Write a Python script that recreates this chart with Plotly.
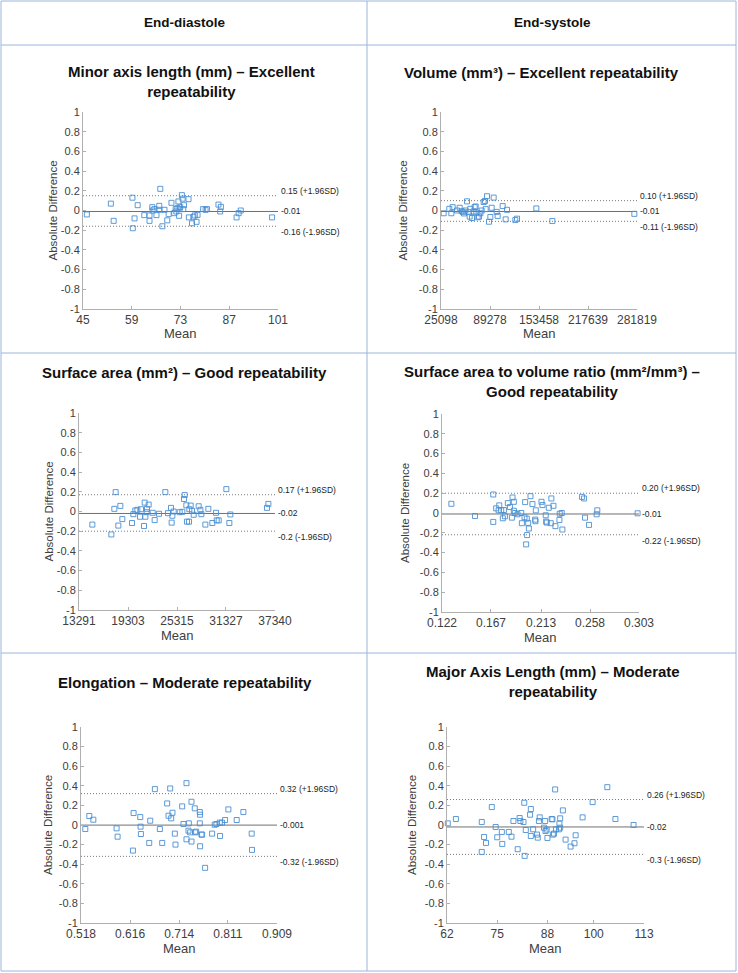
import plotly.graph_objects as go

W, H = 738, 973

# ---------------- data ----------------
col_headers = ["End-diastole", "End-systole"]

y_tickvals = [-1, -0.8, -0.6, -0.4, -0.2, 0, 0.2, 0.4, 0.6, 0.8, 1]
y_ticktext = ["-1", "-0.8", "-0.6", "-0.4", "-0.2", "0", "0.2", "0.4", "0.6", "0.8", "1"]

# Panel 1: Minor axis length (ED)
p1_title = "Minor axis length (mm) – Excellent<br>repeatability"
p1_xticks = [45, 59, 73, 87, 101]
p1_mean = [46.1, 53.0, 53.8, 59.2, 59.3, 59.8, 60.7, 62.6, 64.1, 64.1, 64.9, 65.0, 65.5, 66.1, 66.9, 66.9,
           67.2, 67.8, 68.4, 69.2, 69.6, 70.4, 71.2, 71.6, 71.8, 72.1, 72.4, 72.6, 72.7, 72.9, 73.4, 73.6,
           73.8, 74.0, 75.3, 75.4, 76.3, 76.7, 77.1, 77.6, 77.9, 79.5, 80.2, 80.6, 83.9, 84.4, 84.6, 89.1,
           89.7, 90.3, 99.3]
p1_diff = [-0.04, 0.07, -0.105, 0.13, -0.18, -0.08, 0.054, -0.047, -0.105, -0.05, 0.034, 0.0, 0.014, -0.047,
           0.047, 0.007, 0.22, -0.16, 0.007, -0.1, -0.037, 0.078, -0.027, 0.014, -0.01, 0.024, 0.092, -0.054,
           0.014, 0.034, 0.156, 0.12, 0.014, 0.054, 0.115, -0.07, -0.13, -0.064, -0.05, -0.115, -0.044, 0.014,
           0.007, 0.014, 0.06, -0.01, 0.037, -0.07, -0.027, 0.0, -0.07]
p1_limits = [0.15, -0.01, -0.16]
p1_labels = ["0.15 (+1.96SD)", "-0.01", "-0.16 (-1.96SD)"]

# Panel 2: Volume (ES)
p2_title = "Volume (mm³) – Excellent repeatability"
p2_xticks = [25098, 89278, 153458, 217639, 281819]
p2_mean = [28590, 36000, 38630, 40380, 46050, 49550, 52170, 53920, 55230, 56970, 59150, 61340, 62650, 63520,
           65700, 67890, 69200, 70510, 71380, 73130, 74870, 76620, 78360, 80980, 82730, 83600, 85350, 87970,
           89720, 91460, 94080, 98010, 99320, 105870, 109800, 111540, 122460, 124640, 149960, 170920, 278330]
p2_diff = [-0.028, 0.017, -0.028, 0.034, 0.0, 0.028, -0.007, -0.017, -0.03, 0.0, 0.093, -0.017, -0.062, 0.017,
           -0.076, -0.01, 0.034, 0.041, -0.02, -0.069, -0.062, -0.028, 0.0, 0.086, 0.097, 0.014, 0.145, -0.114,
           -0.066, 0.028, 0.131, -0.014, -0.055, 0.045, -0.09, 0.007, -0.097, -0.083, 0.021, -0.107, -0.034]
p2_limits = [0.10, -0.01, -0.11]
p2_labels = ["0.10 (+1.96SD)", "-0.01", "-0.11 (-1.96SD)"]

# Panel 3: Surface area (ED)
p3_title = "Surface area (mm²) – Good repeatability"
p3_xticks = [13291, 19303, 25315, 31327, 37340]
p3_mean = [14927, 17258, 17626, 17790, 18117, 18362, 18608, 19794, 19958, 20203, 20449, 20776, 20899, 21267,
           21349, 21431, 21594, 21635, 21840, 22331, 22576, 23108, 23885, 24212, 24580, 24662, 24744, 24908,
           25644, 25971, 26176, 26258, 26462, 26544, 26790, 26830, 26994, 27157, 27362, 27976, 28180, 28303,
           28794, 29162, 29653, 30103, 30185, 30430, 31371, 31739, 31862, 36361, 36525]
p3_diff = [-0.133, -0.233, 0.027, 0.197, -0.143, 0.057, -0.077, -0.117, -0.027, 0.01, 0.017, -0.053, 0.023,
           -0.147, 0.09, -0.053, -0.007, 0.027, 0.07, -0.013, -0.087, -0.023, 0.197, -0.017, 0.037, -0.113,
           -0.043, 0.0, -0.007, -0.003, 0.127, 0.167, 0.063, -0.103, -0.103, 0.023, 0.06, 0.007, -0.033, 0.053,
           0.017, -0.027, -0.133, 0.027, -0.117, -0.013, -0.09, -0.09, 0.227, -0.117, -0.03, 0.037, 0.077]
p3_limits = [0.17, -0.02, -0.2]
p3_labels = ["0.17 (+1.96SD)", "-0.02", "-0.2 (-1.96SD)"]

# Panel 4: Surface area to volume ratio (ES)
p4_title = "Surface area to volume ratio (mm²/mm³) –<br>Good repeatability"
p4_xticks = [0.122, 0.167, 0.213, 0.258, 0.303]
p4_mean = [0.1306, 0.1523, 0.1691, 0.1691, 0.1718, 0.1740, 0.1746, 0.1764, 0.1779, 0.1789, 0.1798, 0.1825,
           0.1844, 0.1862, 0.1868, 0.1880, 0.1880, 0.1889, 0.1914, 0.1948, 0.1954, 0.1978, 0.1984, 0.1999,
           0.2002, 0.1993, 0.2012, 0.2018, 0.2033, 0.2051, 0.2076, 0.2079, 0.2082, 0.2134, 0.2143, 0.2173,
           0.2177, 0.2183, 0.2201, 0.2219, 0.2225, 0.2244, 0.2262, 0.2299, 0.2302, 0.2320, 0.2326, 0.2507,
           0.2525, 0.2534, 0.2571, 0.2641, 0.2647, 0.3017]
p4_diff = [0.093, -0.03, 0.187, -0.09, 0.047, 0.027, 0.077, 0.027, -0.053, 0.03, -0.033, 0.1, 0.06, -0.047,
           0.157, 0.113, 0.023, 0.0, -0.013, 0.0, -0.103, -0.043, 0.11, -0.057, -0.223, -0.317, -0.1, -0.157,
           0.17, 0.09, -0.067, -0.083, 0.027, 0.113, 0.08, -0.023, -0.087, -0.097, 0.053, -0.103, 0.147, 0.073,
           -0.133, -0.07, -0.007, 0.0, -0.167, 0.163, 0.147, -0.047, -0.12, -0.013, 0.027, -0.003]
p4_limits = [0.20, -0.01, -0.22]
p4_labels = ["0.20 (+1.96SD)", "-0.01", "-0.22 (-1.96SD)"]

# Panel 5: Elongation (ED)
p5_title = "Elongation – Moderate repeatability"
p5_xticks = [0.518, 0.616, 0.714, 0.811, 0.909]
p5_mean = [0.5266, 0.5346, 0.5426, 0.5890, 0.5910, 0.6229, 0.6216, 0.6362, 0.6368, 0.6375, 0.6541, 0.6561,
           0.6654, 0.6753, 0.6800, 0.6899, 0.6926, 0.6959, 0.6979, 0.7005, 0.7052, 0.7065, 0.7198, 0.7224,
           0.7284, 0.7284, 0.7324, 0.7331, 0.7357, 0.7384, 0.7384, 0.7450, 0.7457, 0.7477, 0.7550, 0.7556,
           0.7550, 0.7556, 0.7583, 0.7596, 0.7656, 0.7795, 0.7848, 0.7881, 0.7948, 0.7954, 0.7994, 0.8054,
           0.8120, 0.8286, 0.8419, 0.8585, 0.8591]
p5_diff = [-0.041, 0.092, 0.054, -0.034, -0.119, 0.122, -0.261, 0.081, -0.017, -0.092, -0.183, 0.044, 0.366,
           -0.041, -0.183, 0.22, 0.095, 0.373, 0.068, 0.125, -0.088, -0.2, 0.19, 0.01, 0.427, -0.146, -0.058,
           0.017, -0.075, 0.237, -0.169, 0.17, -0.075, -0.068, 0.132, 0.105, 0.017, -0.217, -0.098, -0.098,
           -0.437, -0.088, 0.003, 0.01, 0.024, -0.112, 0.024, 0.051, 0.159, 0.051, 0.132, -0.088, -0.254]
p5_limits = [0.32, -0.001, -0.32]
p5_labels = ["0.32 (+1.96SD)", "-0.001", "-0.32 (-1.96SD)"]

# Panel 6: Major axis length (ES)
p6_title = "Major Axis Length (mm) – Moderate<br>repeatability"
p6_xticks = [62, 75, 88, 100, 113]
p6_xticktext = ["62", "75", "88", "100", "113"]
p6_mean = [62.2, 64.3, 71.0, 71.0, 71.6, 72.1, 73.6, 74.6, 75.0, 76.2, 76.3, 78.0, 78.7, 79.2, 80.3, 80.8,
           81.0, 81.8, 82.0, 82.1, 82.4, 83.5, 83.7, 83.7, 84.3, 85.3, 85.5, 85.8, 86.0, 87.1, 87.4, 87.5,
           87.8, 88.0, 89.1, 89.3, 89.4, 89.7, 90.0, 90.2, 91.0, 91.1, 91.3, 91.3, 92.0, 92.7, 94.0, 95.0,
           95.3, 97.1, 99.7, 103.5, 105.6, 110.3]
p6_diff = [0.017, 0.061, 0.031, -0.275, -0.122, -0.183, 0.183, -0.02, -0.125, -0.071, -0.193, -0.071, -0.119,
           0.041, -0.247, 0.071, 0.041, 0.031, 0.227, -0.315, -0.051, 0.105, 0.163, -0.112, -0.044, -0.098,
           -0.129, 0.041, 0.078, -0.027, 0.041, -0.061, -0.047, -0.132, 0.061, 0.058, -0.098, -0.088, 0.363,
           -0.044, -0.044, 0.014, 0.068, -0.027, 0.149, -0.149, -0.22, -0.186, -0.105, 0.078, 0.234, 0.386,
           0.061, 0.0]
p6_limits = [0.26, -0.02, -0.3]
p6_labels = ["0.26 (+1.96SD)", "-0.02", "-0.3 (-1.96SD)"]

y_title = "Absolute Difference"
x_title = "Mean"

# ---------------- layout geometry (pixels) ----------------
panels = [
    dict(title=p1_title, xt=p1_xticks, xtt=[str(v) for v in p1_xticks], x=p1_mean, y=p1_diff,
         lim=p1_limits, lab=p1_labels, box=(83, 112, 278, 309), tpos=(191, 81.5), ylx=52),
    dict(title=p2_title, xt=p2_xticks, xtt=[str(v) for v in p2_xticks], x=p2_mean, y=p2_diff,
         lim=p2_limits, lab=p2_labels, box=(441, 112, 637, 309), tpos=(541, 72), ylx=402),
    dict(title=p3_title, xt=p3_xticks, xtt=[str(v) for v in p3_xticks], x=p3_mean, y=p3_diff,
         lim=p3_limits, lab=p3_labels, box=(79, 413, 275, 610), tpos=(185, 373), ylx=48),
    dict(title=p4_title, xt=p4_xticks, xtt=[str(v) for v in p4_xticks], x=p4_mean, y=p4_diff,
         lim=p4_limits, lab=p4_labels, box=(442, 414, 639, 612), tpos=(552, 381), ylx=405),
    dict(title=p5_title, xt=p5_xticks, xtt=[str(v) for v in p5_xticks], x=p5_mean, y=p5_diff,
         lim=p5_limits, lab=p5_labels, box=(81, 727, 277, 923), tpos=(185, 682), ylx=48),
    dict(title=p6_title, xt=p6_xticks, xtt=p6_xticktext, x=p6_mean, y=p6_diff,
         lim=p6_limits, lab=p6_labels, box=(447, 727, 644, 923), tpos=(553, 681), ylx=412),
]


def fx(px):
    return px / W


def fy(py):
    return 1 - py / H


FONT = "Liberation Sans, Arial, sans-serif"
MARKER_COLOR = "#4a8fd4"
TICK_COLOR = "#404040"
AXIS_COLOR = "#b0b0b0"

fig = go.Figure()
layout = dict(
    width=W, height=H, margin=dict(l=0, r=0, t=0, b=0, pad=0, autoexpand=False),
    paper_bgcolor="white", plot_bgcolor="white", showlegend=False,
    font=dict(family=FONT, color="#222"),
)
annotations = []
shapes = []

for i, p in enumerate(panels, start=1):
    xa = "x" if i == 1 else f"x{i}"
    ya = "y" if i == 1 else f"y{i}"
    xkey = "xaxis" if i == 1 else f"xaxis{i}"
    ykey = "yaxis" if i == 1 else f"yaxis{i}"
    x0, y0, x1, y1 = p["box"]
    xmin, xmax = p["xt"][0], p["xt"][-1]

    layout[xkey] = dict(
        domain=[fx(x0), fx(x1)], anchor=ya, range=[xmin, xmax], automargin=False,
        tickmode="array", tickvals=p["xt"], ticktext=p["xtt"],
        showline=True, linecolor=AXIS_COLOR, linewidth=1, mirror=False,
        ticks="inside", ticklen=3, tickcolor=AXIS_COLOR,
        showgrid=False, zeroline=False,
        tickfont=dict(size=12, color=TICK_COLOR, family=FONT),
    )
    layout[ykey] = dict(
        domain=[fy(y1), fy(y0)], anchor=xa, range=[-1, 1], automargin=False,
        tickmode="array", tickvals=y_tickvals, ticktext=y_ticktext,
        showline=True, linecolor=AXIS_COLOR, linewidth=1, mirror=False,
        ticks="inside", ticklen=3, tickcolor=AXIS_COLOR,
        showgrid=False, zeroline=False,
        tickfont=dict(size=11, color=TICK_COLOR, family=FONT),
    )

    # limit lines
    for k, (val, dash, col) in enumerate(zip(p["lim"], ["1px,2px", "solid", "1px,2px"],
                                             ["#7a7a7a", "#707070", "#7a7a7a"])):
        fig.add_trace(go.Scatter(
            x=[xmin, xmax], y=[val, val], mode="lines", xaxis=xa, yaxis=ya,
            line=dict(color=col, width=1, dash=dash), hoverinfo="skip"))
        annotations.append(dict(
            x=xmax, y=val, xref=xa, yref=ya, text=p["lab"][k], showarrow=False,
            xanchor="left", yanchor="middle", xshift=1, yshift=[5, 0, -6][k],
            font=dict(size=8.5, color="#222", family=FONT)))

    fig.add_trace(go.Scatter(
        x=p["x"], y=p["y"], mode="markers", xaxis=xa, yaxis=ya, cliponaxis=False,
        marker=dict(symbol="square-open", size=5, color=MARKER_COLOR, line=dict(width=0.9, color=MARKER_COLOR)),
        hoverinfo="skip"))

    # titles
    annotations.append(dict(
        x=fx(p["tpos"][0]), y=fy(p["tpos"][1]), xref="paper", yref="paper",
        text="<b>" + p["title"] + "</b>", showarrow=False, xanchor="center", yanchor="middle",
        font=dict(size=15, color="#111", family=FONT)))
    # y axis title
    annotations.append(dict(
        x=fx(p["ylx"]), y=fy((y0 + y1) / 2), xref="paper", yref="paper", text=y_title,
        textangle=-90, showarrow=False, xanchor="center", yanchor="middle",
        font=dict(size=11.5, color="#404040", family=FONT)))
    # x axis title
    annotations.append(dict(
        x=fx((x0 + x1) / 2), y=fy(y1 + 25), xref="paper", yref="paper", text=x_title,
        showarrow=False, xanchor="center", yanchor="middle",
        font=dict(size=13, color="#404040", family=FONT)))

# column headers
for txt, cx in zip(col_headers, [184, 552]):
    annotations.append(dict(
        x=fx(cx), y=fy(22), xref="paper", yref="paper", text="<b>" + txt + "</b>",
        showarrow=False, xanchor="center", yanchor="middle",
        font=dict(size=13.5, color="#111", family=FONT)))

# table grid
GRID = "#9db4dc"
shapes.append(dict(type="rect", xref="paper", yref="paper", x0=fx(1), x1=fx(736), y0=fy(971), y1=fy(1),
                   line=dict(color=GRID, width=1)))
for py in [45, 353, 653]:
    shapes.append(dict(type="line", xref="paper", yref="paper", x0=fx(1), x1=fx(736), y0=fy(py), y1=fy(py),
                       line=dict(color=GRID, width=1)))
shapes.append(dict(type="line", xref="paper", yref="paper", x0=fx(367), x1=fx(367), y0=fy(971), y1=fy(1),
                   line=dict(color=GRID, width=1)))

layout["annotations"] = annotations
layout["shapes"] = shapes
fig.update_layout(**layout)
fig.write_html("out.html", config={"displayModeBar": False, "staticPlot": False},
               post_script="document.body.style.margin='0';document.body.style.overflow='hidden';")
